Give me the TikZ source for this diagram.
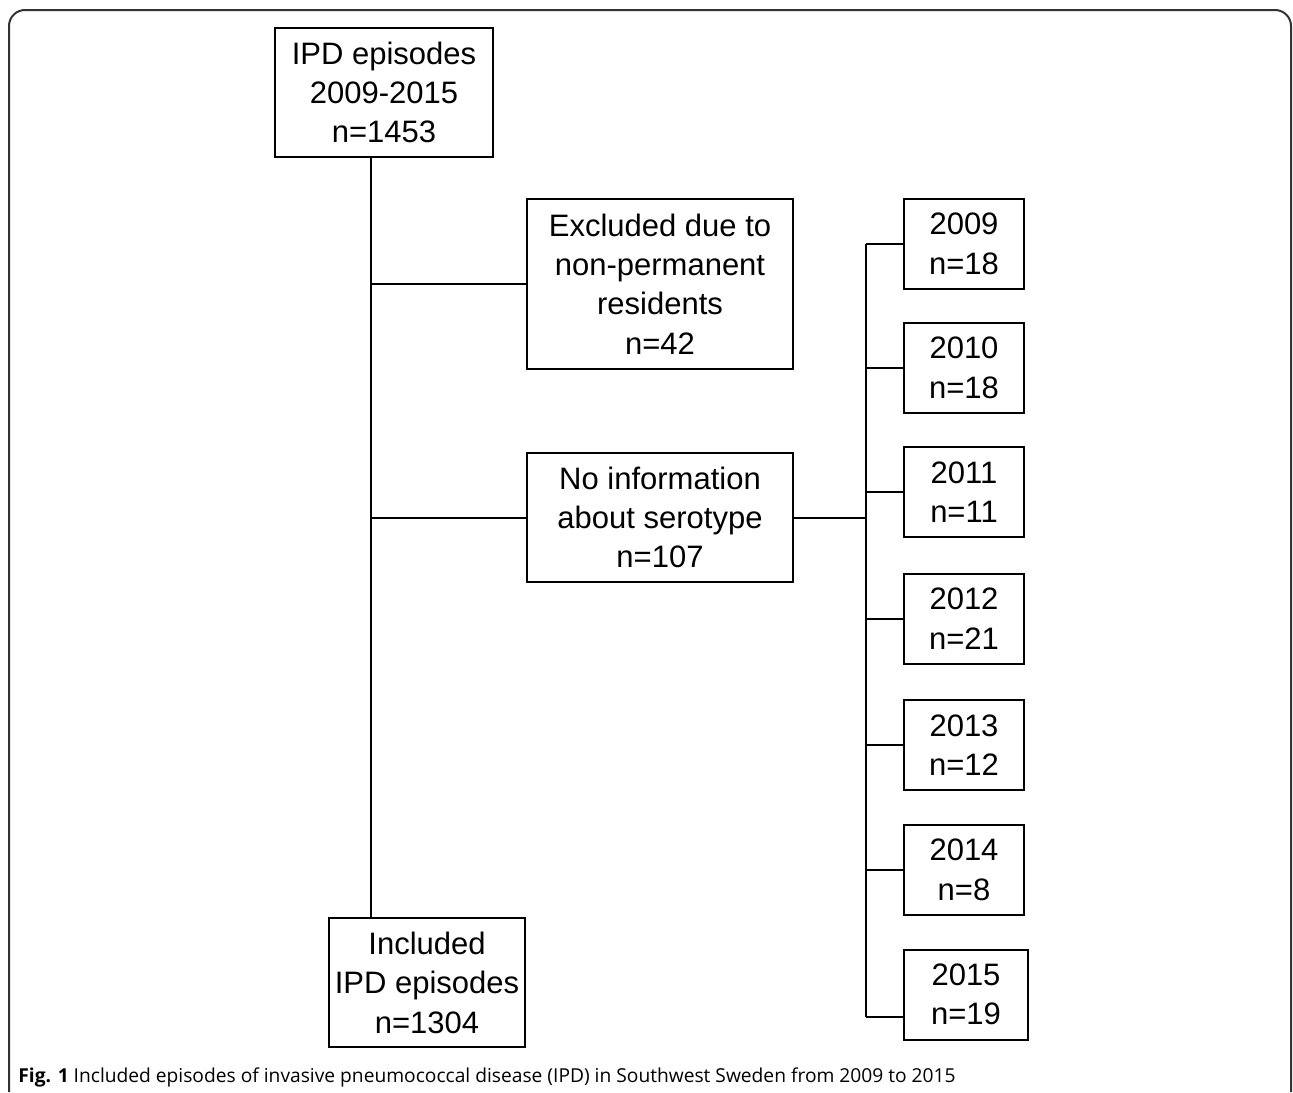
\documentclass[tikz,border=0pt]{standalone}
\usepackage{fontspec}
\setmainfont{Liberation Sans}
\newfontfamily\capfont{Open Sans}
\usetikzlibrary{calc}
\tikzset{
    flowbox/.style = {rectangle,
                    fill=white,
                    draw=black,
                    text=black,
                    line width=1pt,
                    align=center,
                    inner sep=0pt,
                    font=\fontsize{15.5}{19.7}\selectfont},
    yearbox/.style = {flowbox,
                    minimum width=60pt,
                    minimum height=45pt},
    -,
    link/.style =   {draw=black,
                    line width=1pt},
    frame/.style =  {draw=black!80,
                    line width=1pt,
                    rounded corners=8pt}}

\begin{document}
\begin{tikzpicture}[x=0.5pt,y=-0.5pt]
                \useasboundingbox (0,0) rectangle (1293,1092);
                \draw[frame] (9,1092) -- (9,10) -- (1291,10) -- (1291,1092);
                % main column
                \node[flowbox,minimum width=109pt,minimum height=64.5pt] (top)    at (384,92.5)  {IPD episodes\\2009-2015\\n=1453};
                \node[flowbox,minimum width=133pt,minimum height=85pt]   (excl)   at (660,284)   {Excluded due to\\non-permanent\\residents\\n=42};
                \node[flowbox,minimum width=133pt,minimum height=64.5pt] (noinfo) at (660,517.5) {No information\\about serotype\\n=107};
                \node[flowbox,minimum width=98pt,minimum height=64.5pt]  (incl)   at (427,982.5) {Included\\IPD episodes\\n=1304};
                % years
                \node[yearbox] (y2009) at (964,244)   {2009\\n=18};
                \node[yearbox] (y2010) at (964,368)   {2010\\n=18};
                \node[yearbox] (y2011) at (964,492)   {2011\\n=11};
                \node[yearbox] (y2012) at (964,618.5) {2012\\n=21};
                \node[yearbox] (y2013) at (964,745)   {2013\\n=12};
                \node[yearbox] (y2014) at (964,870)   {2014\\n=8};
                \node[yearbox,minimum width=62pt] (y2015) at (966,994.5) {2015\\n=19};
                \coordinate (trunk) at (371,0);
                \coordinate (spine) at (866,0);
                \coordinate (in2015) at ($(y2015.west)+(0,22.5)$);
                \path[link] (trunk |- top.south) -- (trunk |- incl.north);
                \path[link] (trunk |- excl.west) -- (excl.west);
                \path[link] (trunk |- noinfo.west) -- (noinfo.west);
                \path[link] (noinfo.east) -- (spine |- noinfo.east);
                \path[link] (spine |- y2009.west) -- (spine |- in2015);
                \path[link] (spine |- y2009.west) -- (y2009.west);
                \path[link] (spine |- y2010.west) -- (y2010.west);
                \path[link] (spine |- y2011.west) -- (y2011.west);
                \path[link] (spine |- y2012.west) -- (y2012.west);
                \path[link] (spine |- y2013.west) -- (y2013.west);
                \path[link] (spine |- y2014.west) -- (y2014.west);
                \path[link] (spine |- in2015) -- (in2015);
                % caption
                \node[anchor=west,inner sep=0pt,font=\capfont\fontsize{9.6}{11}\selectfont] (cap) at (18,1077)
                    {\textbf{Fig. 1} Included episodes of invasive pneumococcal disease (IPD) in Southwest Sweden from 2009 to 2015};
        \end{tikzpicture}
\end{document}
